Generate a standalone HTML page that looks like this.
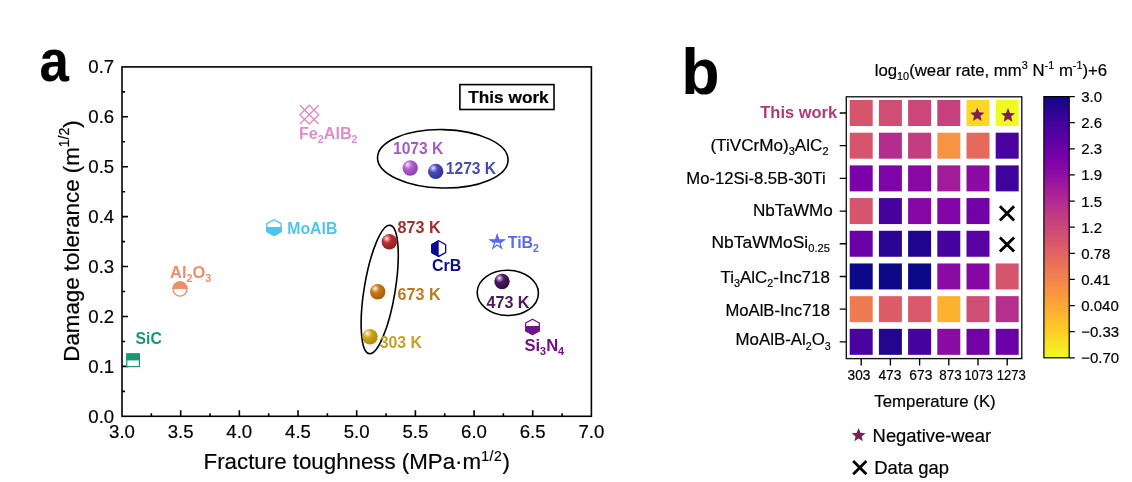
<!DOCTYPE html>
<html lang="en"><head><meta charset="utf-8"><title>Figure</title>
<style>
html,body{margin:0;padding:0;background:#fff;}
body{width:1132px;height:482px;overflow:hidden;font-family:"Liberation Sans",Arial,sans-serif;}
svg{display:block;filter:blur(0.35px)}
text[fill="#000"],g[fill="#000"] text{stroke:#000;stroke-width:.2px}
</style></head><body>
<svg width="1132" height="482" viewBox="0 0 1132 482">
<rect width="1132" height="482" fill="#fff"/>
<rect x="122.0" y="66.9" width="469.40" height="349.40" fill="none" stroke="#000" stroke-width="1.6"/>
<path d="M151.34 416.3v-3 M180.68 416.3v-6 M210.01 416.3v-3 M239.35 416.3v-6 M268.69 416.3v-3 M298.02 416.3v-6 M327.36 416.3v-3 M356.70 416.3v-6 M386.04 416.3v-3 M415.38 416.3v-6 M444.71 416.3v-3 M474.05 416.3v-6 M503.39 416.3v-3 M532.72 416.3v-6 M562.06 416.3v-3 M122.0 391.34h3 M122.0 366.39h6 M122.0 341.43h3 M122.0 316.47h6 M122.0 291.51h3 M122.0 266.56h6 M122.0 241.60h3 M122.0 216.64h6 M122.0 191.69h3 M122.0 166.73h6 M122.0 141.77h3 M122.0 116.81h6 M122.0 91.86h3" stroke="#000" stroke-width="1.6" fill="none"/>
<g font-family="Liberation Sans, Arial, Helvetica, sans-serif" font-size="18.6" fill="#000" text-anchor="middle">
<text x="122.0" y="438.2">3.0</text>
<text x="180.7" y="438.2">3.5</text>
<text x="239.3" y="438.2">4.0</text>
<text x="298.0" y="438.2">4.5</text>
<text x="356.7" y="438.2">5.0</text>
<text x="415.4" y="438.2">5.5</text>
<text x="474.0" y="438.2">6.0</text>
<text x="532.7" y="438.2">6.5</text>
<text x="591.4" y="438.2">7.0</text>
</g>
<g font-family="Liberation Sans, Arial, Helvetica, sans-serif" font-size="18.6" fill="#000" text-anchor="end">
<text x="114.2" y="422.7">0.0</text>
<text x="114.2" y="372.8">0.1</text>
<text x="114.2" y="322.9">0.2</text>
<text x="114.2" y="273.0">0.3</text>
<text x="114.2" y="223.0">0.4</text>
<text x="114.2" y="173.1">0.5</text>
<text x="114.2" y="123.2">0.6</text>
<text x="114.2" y="73.3">0.7</text>
</g>
<text font-family="Liberation Sans, Arial, Helvetica, sans-serif" font-size="22.3" fill="#000" text-anchor="middle" x="356.7" y="469.0">Fracture toughness (MPa·m<tspan font-size="14" dy="-8.5" letter-spacing="0.6">1/2</tspan><tspan dy="8.5">)</tspan></text>
<text font-family="Liberation Sans, Arial, Helvetica, sans-serif" font-size="22.3" fill="#000" text-anchor="middle" transform="translate(79.4 241.0) rotate(-90)">Damage tolerance (m<tspan font-size="14" dy="-10">1/2</tspan><tspan dy="10">)</tspan></text>
<text font-family="Liberation Sans, Arial, Helvetica, sans-serif" font-size="58.5" font-weight="bold" fill="#000" x="39.4" y="81.3" textLength="29.3" lengthAdjust="spacingAndGlyphs">a</text>
<text font-family="Liberation Sans, Arial, Helvetica, sans-serif" font-size="64" font-weight="bold" fill="#000" x="681.5" y="94.3" textLength="38" lengthAdjust="spacingAndGlyphs">b</text>
<rect x="459.9" y="84.6" width="94.1" height="24.9" fill="#fff" stroke="#000" stroke-width="1.6"/>
<text font-family="Liberation Sans, Arial, Helvetica, sans-serif" font-size="17" font-weight="bold" fill="#000" x="468.3" y="103.2" textLength="80.4" lengthAdjust="spacingAndGlyphs">This work</text>
<g fill="none" stroke="#000" stroke-width="1.6">
<ellipse cx="442.8" cy="158.8" rx="65.3" ry="29.2" transform="rotate(1.2 442.8 158.8)"/>
<ellipse cx="379.7" cy="289.5" rx="15.5" ry="65" transform="rotate(9.3 379.7 289.5)"/>
<ellipse cx="507.8" cy="292.9" rx="30.6" ry="22.6" transform="rotate(1.5 507.8 292.9)"/>
</g>
<defs>
<radialGradient id="g1073" cx="0.36" cy="0.32" r="0.7" fx="0.33" fy="0.28"><stop offset="0" stop-color="#fff"/><stop offset="0.1" stop-color="#e9b8f2"/><stop offset="0.4" stop-color="#b35fcf"/><stop offset="1" stop-color="#8d3fae"/></radialGradient>
<radialGradient id="g1273" cx="0.36" cy="0.32" r="0.7" fx="0.33" fy="0.28"><stop offset="0" stop-color="#fff"/><stop offset="0.1" stop-color="#b9b9f0"/><stop offset="0.4" stop-color="#4a4ab8"/><stop offset="1" stop-color="#2f2f96"/></radialGradient>
<radialGradient id="g873" cx="0.36" cy="0.32" r="0.7" fx="0.33" fy="0.28"><stop offset="0" stop-color="#fff"/><stop offset="0.1" stop-color="#f0b0a8"/><stop offset="0.4" stop-color="#b83030"/><stop offset="1" stop-color="#8e1f1f"/></radialGradient>
<radialGradient id="g673" cx="0.36" cy="0.32" r="0.7" fx="0.33" fy="0.28"><stop offset="0" stop-color="#fff"/><stop offset="0.1" stop-color="#f6d3a0"/><stop offset="0.4" stop-color="#c9771a"/><stop offset="1" stop-color="#a45d0c"/></radialGradient>
<radialGradient id="g303" cx="0.36" cy="0.32" r="0.7" fx="0.33" fy="0.28"><stop offset="0" stop-color="#fff"/><stop offset="0.1" stop-color="#f5e6a8"/><stop offset="0.4" stop-color="#cda51e"/><stop offset="1" stop-color="#b08a10"/></radialGradient>
<radialGradient id="g473" cx="0.36" cy="0.32" r="0.7" fx="0.33" fy="0.28"><stop offset="0" stop-color="#fff"/><stop offset="0.1" stop-color="#c9a8d8"/><stop offset="0.4" stop-color="#4a1a60"/><stop offset="1" stop-color="#2d0b3e"/></radialGradient>
</defs>
<circle cx="410.2" cy="168.0" r="7.7" fill="url(#g1073)"/>
<circle cx="435.7" cy="171.4" r="7.7" fill="url(#g1273)"/>
<circle cx="389.3" cy="241.8" r="7.7" fill="url(#g873)"/>
<circle cx="377.7" cy="291.8" r="7.7" fill="url(#g673)"/>
<circle cx="370.0" cy="336.7" r="7.7" fill="url(#g303)"/>
<circle cx="502.0" cy="281.5" r="7.7" fill="url(#g473)"/>
<text font-family="Liberation Sans, Arial, Helvetica, sans-serif" font-size="16" font-weight="bold" fill="#a45cc0" x="393.0" y="154.3" textLength="50.3" lengthAdjust="spacingAndGlyphs">1073 K</text>
<text font-family="Liberation Sans, Arial, Helvetica, sans-serif" font-size="16" font-weight="bold" fill="#4a4ab0" x="445.8" y="174.2" textLength="50.3" lengthAdjust="spacingAndGlyphs">1273 K</text>
<text font-family="Liberation Sans, Arial, Helvetica, sans-serif" font-size="16" font-weight="bold" fill="#a03030" x="397.6" y="232.7" textLength="43" lengthAdjust="spacingAndGlyphs">873 K</text>
<text font-family="Liberation Sans, Arial, Helvetica, sans-serif" font-size="16" font-weight="bold" fill="#c07820" x="397.6" y="299.6" textLength="43" lengthAdjust="spacingAndGlyphs">673 K</text>
<text font-family="Liberation Sans, Arial, Helvetica, sans-serif" font-size="16" font-weight="bold" fill="#c8a020" x="379.7" y="348.1" textLength="42.3" lengthAdjust="spacingAndGlyphs">303 K</text>
<text font-family="Liberation Sans, Arial, Helvetica, sans-serif" font-size="16" font-weight="bold" fill="#4a1a5a" x="486.5" y="307.7" textLength="43.0" lengthAdjust="spacingAndGlyphs">473 K</text>
<rect x="126.8" y="354.0" width="12.6" height="12.6" fill="#fff" stroke="#149a72" stroke-width="1.2"/><rect x="126.2" y="353.4" width="13.8" height="7.0" fill="#149a72"/>
<text font-family="Liberation Sans, Arial, Helvetica, sans-serif" font-size="16" font-weight="bold" fill="#149a72" x="135.6" y="344.4" textLength="26.2" lengthAdjust="spacingAndGlyphs">SiC</text>
<circle cx="180" cy="289" r="7.1" fill="#fff" stroke="#f08e6c" stroke-width="1.3"/><path d="M172.3 289a7.7 7.7 0 0 1 15.4 0z" fill="#f08e6c"/>
<text font-family="Liberation Sans, Arial, Helvetica, sans-serif" font-size="16" font-weight="bold" fill="#f08e6c" x="170.1" y="277.6" textLength="41.2" lengthAdjust="spacingAndGlyphs">Al<tspan font-size="10.5" dy="4">2</tspan><tspan dy="-4">O</tspan><tspan font-size="10.5" dy="4">3</tspan></text>
<path d="M299.90000000000003 105.3L318.7 124.10000000000001M318.7 105.3L299.90000000000003 124.10000000000001M309.3 105.3L318.7 114.7L309.3 124.10000000000001L299.90000000000003 114.7Z" fill="none" stroke="#e08ccb" stroke-width="1.4"/>
<text font-family="Liberation Sans, Arial, Helvetica, sans-serif" font-size="16" font-weight="bold" fill="#e08ccb" x="299.0" y="138.7" textLength="58.5" lengthAdjust="spacingAndGlyphs">Fe<tspan font-size="10.5" dy="4">2</tspan><tspan dy="-4">AlB</tspan><tspan font-size="10.5" dy="4">2</tspan></text>
<polygon points="274.00,219.70 281.10,223.65 281.10,231.55 274.00,235.50 266.90,231.55 266.90,223.65" fill="#fff" stroke="#4ec4f0" stroke-width="1.3" stroke-linejoin="miter"/>
<polygon points="266.30,227.10 281.70,227.10 281.70,231.85 274.00,236.20 266.30,231.85" fill="#4ec4f0"/>
<text font-family="Liberation Sans, Arial, Helvetica, sans-serif" font-size="16" font-weight="bold" fill="#4ec4f0" x="287.3" y="233.7" textLength="50" lengthAdjust="spacingAndGlyphs">MoAlB</text>
<polygon points="438.70,240.80 445.65,244.70 445.65,252.50 438.70,256.40 431.75,252.50 431.75,244.70" fill="#fff" stroke="#0b0b96" stroke-width="1.3"/>
<polygon points="438.70,240.10 438.70,257.10 431.15,252.80 431.15,244.40" fill="#0b0b96"/>
<text font-family="Liberation Sans, Arial, Helvetica, sans-serif" font-size="16" font-weight="bold" fill="#0b0b96" x="432.0" y="271.3" textLength="29.2" lengthAdjust="spacingAndGlyphs">CrB</text>
<polygon points="532.50,319.20 539.40,323.05 539.40,330.75 532.50,334.60 525.60,330.75 525.60,323.05" fill="#fff" stroke="#701487" stroke-width="1.3"/>
<polygon points="525.00,326.10 540.00,326.10 540.00,331.05 532.50,335.30 525.00,331.05" fill="#701487"/>
<text font-family="Liberation Sans, Arial, Helvetica, sans-serif" font-size="16" font-weight="bold" fill="#701487" x="524.4" y="350.8" textLength="39.8" lengthAdjust="spacingAndGlyphs">Si<tspan font-size="10.5" dy="4">3</tspan><tspan dy="-4">N</tspan><tspan font-size="10.5" dy="4">4</tspan></text>
<clipPath id="stc"><rect x="485.2" y="230.2" width="24" height="12.6"/></clipPath>
<polygon points="497.20,234.90 498.84,239.94 504.14,239.94 499.85,243.06 501.49,248.11 497.20,244.99 492.91,248.11 494.55,243.06 490.26,239.94 495.56,239.94" fill="#fff" stroke="#5b6bf0" stroke-width="1.3"/>
<polygon points="497.20,234.30 498.97,239.76 504.71,239.76 500.07,243.13 501.84,248.59 497.20,245.22 492.56,248.59 494.33,243.13 489.69,239.76 495.43,239.76" fill="#5b6bf0" clip-path="url(#stc)"/>
<text font-family="Liberation Sans, Arial, Helvetica, sans-serif" font-size="16" font-weight="bold" fill="#5b6bf0" x="507.7" y="248.0" textLength="31.2" lengthAdjust="spacingAndGlyphs">TiB<tspan font-size="10.5" dy="4">2</tspan></text>
<rect x="849.70" y="100.00" width="23.0" height="26.0" fill="#d6556d"/>
<rect x="878.90" y="100.00" width="23.0" height="26.0" fill="#d04d73"/>
<rect x="908.10" y="100.00" width="23.0" height="26.0" fill="#cc4778"/>
<rect x="937.30" y="100.00" width="23.0" height="26.0" fill="#c6417d"/>
<rect x="966.50" y="100.00" width="23.0" height="26.0" fill="#fbd724"/>
<rect x="995.70" y="100.00" width="23.0" height="26.0" fill="#f0f921"/>
<rect x="849.70" y="132.69" width="23.0" height="26.0" fill="#d6556d"/>
<rect x="878.90" y="132.69" width="23.0" height="26.0" fill="#b32c8e"/>
<rect x="908.10" y="132.69" width="23.0" height="26.0" fill="#c43e7f"/>
<rect x="937.30" y="132.69" width="23.0" height="26.0" fill="#f79342"/>
<rect x="966.50" y="132.69" width="23.0" height="26.0" fill="#e56a5d"/>
<rect x="995.70" y="132.69" width="23.0" height="26.0" fill="#4903a0"/>
<rect x="849.70" y="165.38" width="23.0" height="26.0" fill="#7a02a8"/>
<rect x="878.90" y="165.38" width="23.0" height="26.0" fill="#7e03a8"/>
<rect x="908.10" y="165.38" width="23.0" height="26.0" fill="#8808a6"/>
<rect x="937.30" y="165.38" width="23.0" height="26.0" fill="#a11b9b"/>
<rect x="966.50" y="165.38" width="23.0" height="26.0" fill="#8d0ba5"/>
<rect x="995.70" y="165.38" width="23.0" height="26.0" fill="#3e049c"/>
<rect x="849.70" y="198.07" width="23.0" height="26.0" fill="#d6556d"/>
<rect x="878.90" y="198.07" width="23.0" height="26.0" fill="#48039f"/>
<rect x="908.10" y="198.07" width="23.0" height="26.0" fill="#8606a6"/>
<rect x="937.30" y="198.07" width="23.0" height="26.0" fill="#8305a7"/>
<rect x="966.50" y="198.07" width="23.0" height="26.0" fill="#7401a8"/>
<rect x="849.70" y="230.76" width="23.0" height="26.0" fill="#6a00a8"/>
<rect x="878.90" y="230.76" width="23.0" height="26.0" fill="#2a0593"/>
<rect x="908.10" y="230.76" width="23.0" height="26.0" fill="#20068f"/>
<rect x="937.30" y="230.76" width="23.0" height="26.0" fill="#46039f"/>
<rect x="966.50" y="230.76" width="23.0" height="26.0" fill="#5901a5"/>
<rect x="849.70" y="263.45" width="23.0" height="26.0" fill="#0d0887"/>
<rect x="878.90" y="263.45" width="23.0" height="26.0" fill="#0d0887"/>
<rect x="908.10" y="263.45" width="23.0" height="26.0" fill="#0d0887"/>
<rect x="937.30" y="263.45" width="23.0" height="26.0" fill="#8d0ba5"/>
<rect x="966.50" y="263.45" width="23.0" height="26.0" fill="#8707a6"/>
<rect x="995.70" y="263.45" width="23.0" height="26.0" fill="#d5546e"/>
<rect x="849.70" y="296.14" width="23.0" height="26.0" fill="#ee7b51"/>
<rect x="878.90" y="296.14" width="23.0" height="26.0" fill="#dc5d67"/>
<rect x="908.10" y="296.14" width="23.0" height="26.0" fill="#d9586a"/>
<rect x="937.30" y="296.14" width="23.0" height="26.0" fill="#fdb22f"/>
<rect x="966.50" y="296.14" width="23.0" height="26.0" fill="#d04d73"/>
<rect x="995.70" y="296.14" width="23.0" height="26.0" fill="#b52f8c"/>
<rect x="849.70" y="328.83" width="23.0" height="26.0" fill="#4903a0"/>
<rect x="878.90" y="328.83" width="23.0" height="26.0" fill="#220690"/>
<rect x="908.10" y="328.83" width="23.0" height="26.0" fill="#46039f"/>
<rect x="937.30" y="328.83" width="23.0" height="26.0" fill="#8d0ba5"/>
<rect x="966.50" y="328.83" width="23.0" height="26.0" fill="#7201a8"/>
<rect x="995.70" y="328.83" width="23.0" height="26.0" fill="#6a00a8"/>
<rect x="846.3" y="96.8" width="175.50" height="261.80" fill="none" stroke="#111" stroke-width="1.35"/>
<path d="M846.3 113.00h-6.6 M846.3 145.69h-6.6 M846.3 178.38h-6.6 M846.3 211.07h-6.6 M846.3 243.76h-6.6 M846.3 276.45h-6.6 M846.3 309.14h-6.6 M846.3 341.83h-6.6 M861.20 358.6v6.8 M890.40 358.6v6.8 M919.60 358.6v6.8 M948.80 358.6v6.8 M978.00 358.6v6.8 M1007.20 358.6v6.8" stroke="#000" stroke-width="1.35" fill="none"/>
<polygon points="977.30,107.50 979.24,112.33 984.43,112.68 980.44,116.02 981.71,121.07 977.30,118.30 972.89,121.07 974.16,116.02 970.17,112.68 975.36,112.33" fill="#7b1f55"/>
<polygon points="1008.00,108.10 1009.94,112.93 1015.13,113.28 1011.14,116.62 1012.41,121.67 1008.00,118.90 1003.59,121.67 1004.86,116.62 1000.87,113.28 1006.06,112.93" fill="#7b1f55"/>
<path d="M999.9 206.3L1014.1 220.5M1014.1 206.3L999.9 220.5" stroke="#000" stroke-width="2.8" fill="none"/>
<path d="M999.9 237.4L1014.1 251.6M1014.1 237.4L999.9 251.6" stroke="#000" stroke-width="2.8" fill="none"/>
<text font-family="Liberation Sans, Arial, Helvetica, sans-serif" font-size="16.8" font-weight="bold" fill="#b03a78" x="760.3" y="117.9" textLength="76.8" lengthAdjust="spacingAndGlyphs">This work</text>
<text font-family="Liberation Sans, Arial, Helvetica, sans-serif" font-size="16.9" fill="#000" x="710.4" y="150.9" textLength="118.1" lengthAdjust="spacingAndGlyphs">(TiVCrMo)<tspan font-size="10.8" dy="4.2">3</tspan><tspan dy="-4.2">AlC</tspan><tspan font-size="10.8" dy="4.2">2</tspan></text>
<text font-family="Liberation Sans, Arial, Helvetica, sans-serif" font-size="16.9" fill="#000" x="686.3" y="183.7" textLength="139.3" lengthAdjust="spacingAndGlyphs">Mo-12Si-8.5B-30Ti</text>
<text font-family="Liberation Sans, Arial, Helvetica, sans-serif" font-size="16.9" fill="#000" x="753.0" y="216.4" textLength="79.8" lengthAdjust="spacingAndGlyphs">NbTaWMo</text>
<text font-family="Liberation Sans, Arial, Helvetica, sans-serif" font-size="16.9" fill="#000" x="711.5" y="248.1" textLength="118.4" lengthAdjust="spacingAndGlyphs">NbTaWMoSi<tspan font-size="10.8" dy="4.2">0.25</tspan></text>
<text font-family="Liberation Sans, Arial, Helvetica, sans-serif" font-size="16.9" fill="#000" x="720.5" y="282.7" textLength="109.4" lengthAdjust="spacingAndGlyphs">Ti<tspan font-size="10.8" dy="4.2">3</tspan><tspan dy="-4.2">AlC</tspan><tspan font-size="10.8" dy="4.2">2</tspan><tspan dy="-4.2">-Inc718</tspan></text>
<text font-family="Liberation Sans, Arial, Helvetica, sans-serif" font-size="16.9" fill="#000" x="725.5" y="316.2" textLength="104.4" lengthAdjust="spacingAndGlyphs">MoAlB-Inc718</text>
<text font-family="Liberation Sans, Arial, Helvetica, sans-serif" font-size="16.9" fill="#000" x="735.6" y="345.4" textLength="95.2" lengthAdjust="spacingAndGlyphs">MoAlB-Al<tspan font-size="10.8" dy="4.2">2</tspan><tspan dy="-4.2">O</tspan><tspan font-size="10.8" dy="4.2">3</tspan></text>
<text font-family="Liberation Sans, Arial, Helvetica, sans-serif" font-size="14.1" fill="#000" x="847.6" y="379.8" textLength="22.8" lengthAdjust="spacingAndGlyphs">303</text>
<text font-family="Liberation Sans, Arial, Helvetica, sans-serif" font-size="14.1" fill="#000" x="878.4" y="379.8" textLength="23.0" lengthAdjust="spacingAndGlyphs">473</text>
<text font-family="Liberation Sans, Arial, Helvetica, sans-serif" font-size="14.1" fill="#000" x="909.3" y="379.8" textLength="23.0" lengthAdjust="spacingAndGlyphs">673</text>
<text font-family="Liberation Sans, Arial, Helvetica, sans-serif" font-size="14.1" fill="#000" x="939.3" y="379.8" textLength="22.3" lengthAdjust="spacingAndGlyphs">873</text>
<text font-family="Liberation Sans, Arial, Helvetica, sans-serif" font-size="14.1" fill="#000" x="964.4" y="379.8" textLength="28.5" lengthAdjust="spacingAndGlyphs">1073</text>
<text font-family="Liberation Sans, Arial, Helvetica, sans-serif" font-size="14.1" fill="#000" x="996.7" y="379.8" textLength="29.2" lengthAdjust="spacingAndGlyphs">1273</text>
<text font-family="Liberation Sans, Arial, Helvetica, sans-serif" font-size="17" fill="#000" x="874.3" y="407.4" textLength="121.4" lengthAdjust="spacingAndGlyphs">Temperature (K)</text>
<text font-family="Liberation Sans, Arial, Helvetica, sans-serif" font-size="17" fill="#000" x="874.7" y="76.0" textLength="232.5" lengthAdjust="spacingAndGlyphs">log<tspan font-size="11" dy="4">10</tspan><tspan dy="-4">(wear rate, mm</tspan><tspan font-size="11" dy="-7">3</tspan><tspan dy="7"> N</tspan><tspan font-size="11" dy="-7">-1</tspan><tspan dy="7"> m</tspan><tspan font-size="11" dy="-7">-1</tspan><tspan dy="7">)+6</tspan></text>
<defs><linearGradient id="cb" x1="0" y1="0" x2="0" y2="1">
<stop offset="0.00" stop-color="#0d0887"/>
<stop offset="0.05" stop-color="#2a0593"/>
<stop offset="0.10" stop-color="#41049d"/>
<stop offset="0.15" stop-color="#5601a4"/>
<stop offset="0.20" stop-color="#6a00a8"/>
<stop offset="0.25" stop-color="#7e03a8"/>
<stop offset="0.30" stop-color="#8f0da4"/>
<stop offset="0.35" stop-color="#a11b9b"/>
<stop offset="0.40" stop-color="#b12a90"/>
<stop offset="0.45" stop-color="#bf3984"/>
<stop offset="0.50" stop-color="#cc4778"/>
<stop offset="0.55" stop-color="#d6556d"/>
<stop offset="0.60" stop-color="#e16462"/>
<stop offset="0.65" stop-color="#ea7457"/>
<stop offset="0.70" stop-color="#f2844b"/>
<stop offset="0.75" stop-color="#f89540"/>
<stop offset="0.80" stop-color="#fca636"/>
<stop offset="0.85" stop-color="#feba2c"/>
<stop offset="0.90" stop-color="#fcce25"/>
<stop offset="0.95" stop-color="#f7e425"/>
<stop offset="1.00" stop-color="#f0f921"/>
</linearGradient></defs>
<rect x="1043.9" y="96.6" width="25.3" height="261.2" fill="url(#cb)" stroke="#000" stroke-width="1.2"/>
<g font-family="Liberation Sans, Arial, Helvetica, sans-serif" font-size="15" fill="#000">
<text x="1081.2" y="102.0">3.0</text>
<text x="1081.2" y="128.1">2.6</text>
<text x="1081.2" y="154.2">2.3</text>
<text x="1081.2" y="180.4">1.9</text>
<text x="1081.2" y="206.5">1.5</text>
<text x="1081.2" y="232.6">1.2</text>
<text x="1081.2" y="258.7">0.78</text>
<text x="1081.2" y="284.8">0.41</text>
<text x="1081.2" y="311.0">0.040</text>
<text x="1081.2" y="337.1">−0.33</text>
<text x="1081.2" y="363.2">−0.70</text>
</g>
<path d="M1069.2 96.60h5.6 M1069.2 122.72h5.6 M1069.2 148.84h5.6 M1069.2 174.96h5.6 M1069.2 201.08h5.6 M1069.2 227.20h5.6 M1069.2 253.32h5.6 M1069.2 279.44h5.6 M1069.2 305.56h5.6 M1069.2 331.68h5.6 M1069.2 357.80h5.6" stroke="#000" stroke-width="1.2" fill="none"/>
<polygon points="858.60,428.10 860.48,432.81 865.54,433.14 861.64,436.39 862.89,441.31 858.60,438.60 854.31,441.31 855.56,436.39 851.66,433.14 856.72,432.81" fill="#7b1f55"/>
<text font-family="Liberation Sans, Arial, Helvetica, sans-serif" font-size="19" fill="#000" x="872.6" y="441.8" textLength="118.6" lengthAdjust="spacingAndGlyphs">Negative-wear</text>
<path d="M853.1999999999999 461.0L866.4 474.20000000000005M866.4 461.0L853.1999999999999 474.20000000000005" stroke="#000" stroke-width="2.8" fill="none"/>
<text font-family="Liberation Sans, Arial, Helvetica, sans-serif" font-size="19" fill="#000" x="874.2" y="474.1" textLength="74.8" lengthAdjust="spacingAndGlyphs">Data gap</text>
</svg>
</body></html>
